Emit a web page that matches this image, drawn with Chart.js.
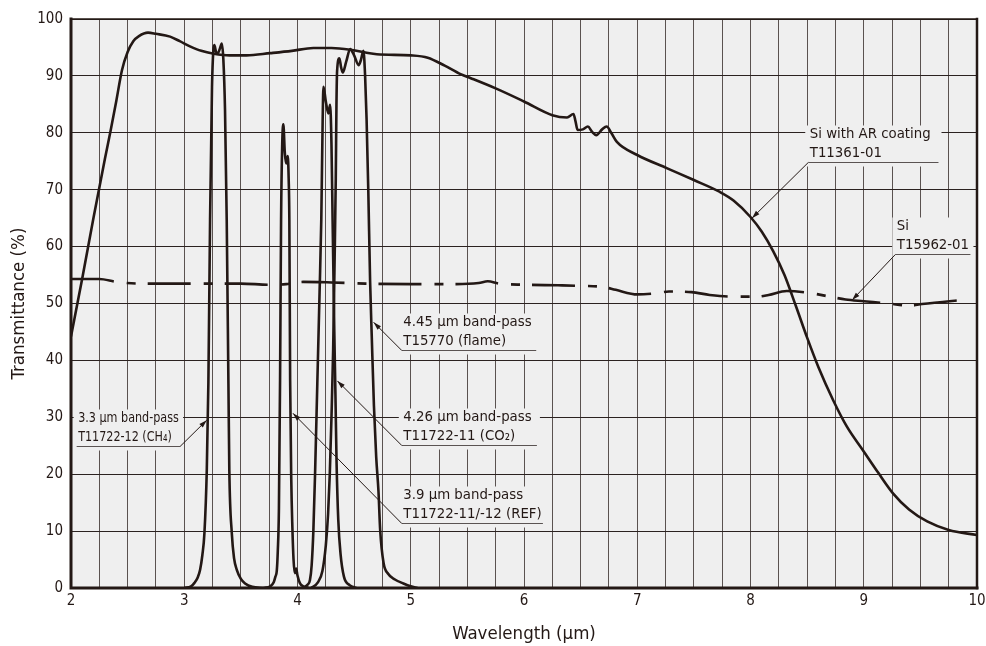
<!DOCTYPE html>
<html>
<head>
<meta charset="utf-8">
<script src="https://cdn.jsdelivr.net/npm/chart.js@4.4.1/dist/chart.umd.min.js"></script>
<style>
  body { margin: 0; background: #fff; }
  #chart { display: block; }
</style>
</head>
<body>
<canvas id="chart" width="986" height="646"></canvas>
<script>
// ---- axis ticks ----
const xTickLabels = [2, 3, 4, 5, 6, 7, 8, 9, 10];
const yTickLabels = [0, 10, 20, 30, 40, 50, 60, 70, 80, 90, 100];

// ---- Si with AR coating (T11361-01) ----
const siArWl = [2.0, 2.1, 2.2, 2.3, 2.35, 2.4, 2.45, 2.5, 2.55, 2.6, 2.68, 2.75, 2.875, 2.96, 3.05, 3.15, 3.26, 3.4, 3.55, 3.76, 3.95, 4.14, 4.3, 4.465, 4.6, 4.7, 5.0, 5.15, 5.3, 5.44, 5.53, 5.75, 6.0, 6.25, 6.38, 6.437, 6.455, 6.473, 6.52, 6.564, 6.6, 6.638, 6.69, 6.73, 6.77, 6.82, 7.0, 7.26, 7.5, 7.73, 7.85, 8.0, 8.1, 8.2, 8.3, 8.4, 8.5, 8.6, 8.73, 8.85, 9.0, 9.13, 9.26, 9.4, 9.56, 9.75, 10.0];
const siArT  = [44.2, 54.5, 65.2, 75.5, 80.4, 85.6, 91.0, 94.2, 96.1, 97.0, 97.6, 97.4, 96.9, 96.1, 95.2, 94.4, 93.9, 93.6, 93.6, 94.0, 94.4, 94.9, 94.9, 94.6, 94.1, 93.8, 93.6, 93.2, 91.8, 90.3, 89.6, 87.8, 85.5, 83.1, 82.7, 83.3, 82.0, 80.5, 80.6, 81.1, 80.2, 79.6, 80.6, 81.1, 80.0, 78.4, 76.1, 73.8, 71.7, 69.6, 68.1, 65.2, 62.6, 59.2, 55.0, 49.6, 44.0, 38.8, 33.0, 28.4, 24.0, 20.2, 16.6, 13.8, 11.7, 10.2, 9.3];

// ---- Si (T15962-01) ----
const siWl = [2.0, 2.25, 2.4, 2.6, 3.0, 3.5, 3.75, 3.9, 4.05, 4.3, 4.6, 5.0, 5.4, 5.6, 5.68, 5.78, 6.0, 6.3, 6.5, 6.7, 6.81, 7.0, 7.17, 7.28, 7.48, 7.64, 7.85, 8.06, 8.16, 8.32, 8.54, 8.7, 8.84, 9.0, 9.22, 9.4, 9.515, 9.91];
const siT  = [54.3, 54.3, 53.8, 53.5, 53.5, 53.5, 53.3, 53.4, 53.8, 53.7, 53.5, 53.4, 53.4, 53.6, 53.9, 53.5, 53.3, 53.2, 53.1, 52.9, 52.4, 51.6, 51.8, 52.1, 52.0, 51.5, 51.2, 51.2, 51.5, 52.2, 51.8, 51.2, 50.7, 50.4, 50.0, 49.6, 49.9, 50.7];

// ---- 3.3 um band-pass (CH4) ----
const ch4Wl = [3.0, 3.06, 3.09, 3.12, 3.14, 3.16, 3.178, 3.199, 3.213, 3.228, 3.245, 3.257, 3.266, 3.281, 3.296, 3.315, 3.331, 3.345, 3.36, 3.375, 3.39, 3.398, 3.42, 3.44, 3.464, 3.5, 3.537, 3.6, 3.7];
const ch4T  = [0, 0.3, 0.9, 1.9, 3.2, 5.8, 9.6, 20.7, 36, 64.7, 88, 94.5, 95.4, 94.2, 94.0, 94.8, 95.7, 93, 84, 64.7, 36, 20.7, 9.6, 5.2, 3.2, 1.6, 0.8, 0.2, 0];

// ---- 3.9 um band-pass (REF) ----
const refWl = [3.7, 3.76, 3.79, 3.805, 3.817, 3.826, 3.836, 3.846, 3.855, 3.865, 3.875, 3.888, 3.9, 3.914, 3.922, 3.928, 3.935, 3.945, 3.955, 3.965, 3.976, 3.988, 4.0, 4.02, 4.05, 4.1];
const refT  = [0, 0.3, 1, 2, 3, 6.5, 14, 36.5, 64.7, 78, 81.5, 76.5, 74.6, 75.9, 72, 64.7, 36.5, 19, 10.5, 5, 2.6, 3.4, 2.2, 0.9, 0.3, 0];

// ---- 4.26 um band-pass (CO2) ----
const co2Wl = [4.05, 4.09, 4.11, 4.125, 4.14, 4.155, 4.175, 4.195, 4.21, 4.222, 4.229, 4.25, 4.273, 4.288, 4.3, 4.31, 4.325, 4.335, 4.345, 4.36, 4.38, 4.41, 4.46, 4.52];
const co2T  = [0, 0.6, 1.4, 4, 10, 20, 36, 52, 64.7, 82, 88.1, 85.5, 83.4, 84.9, 78, 64.7, 45, 34, 22, 12, 6, 2, 0.5, 0];

// ---- 4.45 um band-pass (flame) ----
const flameWl = [4.12, 4.18, 4.22, 4.25, 4.27, 4.285, 4.3, 4.315, 4.328, 4.338, 4.344, 4.35, 4.37, 4.385, 4.4, 4.43, 4.465, 4.5, 4.54, 4.56, 4.582, 4.597, 4.61, 4.625, 4.641, 4.656, 4.675, 4.695, 4.715, 4.73, 4.76, 4.8, 4.86, 4.935, 5.0, 5.06];
const flameT  = [0, 1, 3, 7.5, 13, 20, 30, 42, 58, 72, 85, 91, 93.1, 91.5, 90.6, 92.5, 94.7, 93.6, 91.9, 92.8, 94.4, 90, 82.4, 70, 54, 44, 32, 23, 17, 10.2, 4.4, 2.5, 1.5, 0.8, 0.3, 0];

const ink = "#231815";
const plotBg = "#efefef";
const fontFamily = '"DejaVu Sans Condensed", "DejaVu Sans"';
const labelFont = '14.8px ' + fontFamily;

// callout boxes: underline from x0 to x1 at height y, leader to tip
const notes = [
    { lines: ["Si with AR coating", "T11361-01"], x0: 8.51, x1: 9.66, y: 74.9, tip: [8.013, 65.0], from: "left" },
    { lines: ["Si", "T15962-01"], x0: 9.279, x1: 9.942, y: 58.7, tip: [8.897, 50.6], from: "left" },
    { lines: ["4.45 µm band-pass", "T15770 (flame)"], x0: 4.921, x1: 6.108, y: 41.83, tip: [4.672, 46.7], from: "left" },
    { lines: ["4.26 µm band-pass", "T11722-11 (CO₂)"], x0: 4.921, x1: 6.114, y: 25.13, tip: [4.352, 36.4], from: "left" },
    { lines: ["3.9 µm band-pass", "T11722-11/-12 (REF)"], x0: 4.921, x1: 6.167, y: 11.48, tip: [3.96, 30.7], from: "left" },
    { lines: ["3.3 µm band-pass", "T11722-12 (CH₄)"], x0: 2.05, x1: 2.963, y: 24.96, tip: [3.199, 29.5], from: "right", squeeze: 0.84 }
];

function pairs(xs, ys) {
    return xs.map((v, i) => ({ x: v, y: ys[i] }));
}

function curve(label, xs, ys, dash) {
    return {
        label: label,
        data: pairs(xs, ys),
        borderColor: ink,
        borderWidth: 2.6,
        borderDash: dash || [],
        pointRadius: 0,
        cubicInterpolationMode: "monotone",
        fill: false
    };
}

// PLOT BACKGROUND + FRAME
const plotFrame = {
    id: "plotFrame",
    beforeDraw(chart) {
        const { ctx, chartArea: a } = chart;
        ctx.save();
        ctx.fillStyle = plotBg;
        ctx.fillRect(a.left, a.top, a.right - a.left, a.bottom - a.top);
        ctx.restore();
    },
    afterDatasetsDraw(chart) {
        const { ctx, chartArea: a } = chart;
        ctx.save();
        ctx.strokeStyle = ink;
        ctx.lineCap = "square";
        ctx.lineWidth = 1.5;
        ctx.beginPath(); ctx.moveTo(a.left, a.top); ctx.lineTo(a.right, a.top); ctx.stroke();
        ctx.lineWidth = 2.5;
        ctx.beginPath(); ctx.moveTo(a.right, a.top); ctx.lineTo(a.right, a.bottom); ctx.stroke();
        ctx.lineWidth = 3;
        ctx.beginPath(); ctx.moveTo(a.left, a.top); ctx.lineTo(a.left, a.bottom); ctx.lineTo(a.right, a.bottom); ctx.stroke();
        ctx.restore();
    }
};

// text squeezed horizontally for the narrow callout
function drawText(ctx, text, x, y, squeeze) {
    ctx.save();
    ctx.translate(x, y);
    ctx.scale(squeeze || 1, 1);
    ctx.fillText(text, 0, 0);
    ctx.restore();
}

// CALLOUT LABELS
const calloutPlugin = {
    id: "callouts",
    beforeDatasetsDraw(chart) {
        const { ctx, scales: { x, y } } = chart;
        ctx.save();
        notes.forEach(n => {
            const left = x.getPixelForValue(n.x0);
            const right = x.getPixelForValue(n.x1);
            const base = Math.round(y.getPixelForValue(n.y)) + 0.5;
            ctx.fillStyle = plotBg;
            ctx.fillRect(left - 3, base - 37, right - left + 6, 41);
            ctx.fillStyle = ink;
            ctx.font = labelFont;
            ctx.textBaseline = "middle";
            drawText(ctx, n.lines[0], left + 1.5, base - 28.5, n.squeeze);
            drawText(ctx, n.lines[1], left + 1.5, base - 9, n.squeeze);
            ctx.strokeStyle = "#5a5352";
            ctx.lineWidth = 1;
            ctx.beginPath(); ctx.moveTo(left, base); ctx.lineTo(right, base); ctx.stroke();
        });
        ctx.restore();
    },
    afterDatasetsDraw(chart) {
        const { ctx, scales: { x, y } } = chart;
        ctx.save();
        ctx.strokeStyle = ink;
        ctx.fillStyle = ink;
        ctx.lineWidth = 1;
        notes.forEach(n => {
            const sx = x.getPixelForValue(n.from === "left" ? n.x0 : n.x1);
            const sy = Math.round(y.getPixelForValue(n.y)) + 0.5;
            const tx = x.getPixelForValue(n.tip[0]);
            const ty = y.getPixelForValue(n.tip[1]);
            ctx.beginPath(); ctx.moveTo(sx, sy); ctx.lineTo(tx, ty); ctx.stroke();
            // arrow head
            const ang = Math.atan2(ty - sy, tx - sx);
            const len = 8, half = 2.4;
            const bx = tx - len * Math.cos(ang), by = ty - len * Math.sin(ang);
            ctx.beginPath();
            ctx.moveTo(tx, ty);
            ctx.lineTo(bx + half * Math.sin(ang), by - half * Math.cos(ang));
            ctx.lineTo(bx - half * Math.sin(ang), by + half * Math.cos(ang));
            ctx.closePath();
            ctx.fill();
        });
        ctx.restore();
    }
};

Chart.defaults.font.family = fontFamily;
Chart.defaults.color = ink;

new Chart(document.getElementById("chart"), {
    type: "line",
    data: {
        datasets: [
            curve("Si with AR coating T11361-01", siArWl, siArT),
            curve("Si T15962-01", siWl, siT, [43, 13, 9, 12]),
            curve("3.3 µm band-pass T11722-12 (CH₄)", ch4Wl, ch4T),
            curve("3.9 µm band-pass T11722-11/-12 (REF)", refWl, refT),
            curve("4.26 µm band-pass T11722-11 (CO₂)", co2Wl, co2T),
            curve("4.45 µm band-pass T15770 (flame)", flameWl, flameT)
        ]
    },
    options: {
        responsive: false,
        devicePixelRatio: 1,
        animation: false,
        layout: { padding: { top: 19, right: 9, bottom: 0, left: 0 } },
        plugins: { legend: { display: false }, tooltip: { enabled: false } },
        scales: {
            x: {
                type: "linear",
                min: 2, max: 10,
                border: { display: false },
                grid: { color: "#5a5250", lineWidth: 1, drawTicks: false },
                ticks: {
                    stepSize: 0.25, autoSkip: false, maxRotation: 0, padding: 4.5,
                    font: { size: 15 },
                    callback: v => xTickLabels.includes(v) ? String(v) : ""
                },
                title: { display: true, text: "Wavelength (µm)", font: { size: 18.5 }, padding: { top: 0, bottom: 1 } },
                afterFit(s) { s.height = 58; s.paddingLeft = 0; s.paddingRight = 0; }
            },
            y: {
                min: 0, max: 100,
                border: { display: false },
                grid: { color: "#2b2220", lineWidth: 1, drawTicks: false },
                ticks: {
                    stepSize: 10, padding: 8,
                    font: { size: 15 },
                    callback: v => yTickLabels.includes(v) ? String(v) : ""
                },
                title: { display: true, text: "Transmittance (%)", font: { size: 18.5 }, padding: { top: 8, bottom: 0 } },
                afterFit(s) { s.width = 71; s.paddingTop = 0; s.paddingBottom = 0; }
            }
        }
    },
    plugins: [plotFrame, calloutPlugin]
});
</script>
</body>
</html>
